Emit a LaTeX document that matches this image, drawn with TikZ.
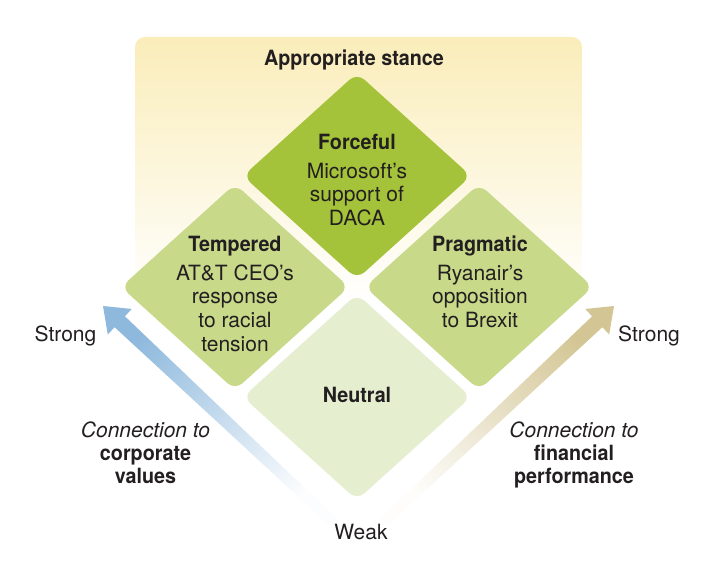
\documentclass[tikz,border=0pt]{standalone}
\usepackage{fontspec}
\setmainfont{TeX Gyre Heros}[BoldFeatures={FakeStretch=0.94}]
\usetikzlibrary{shapes.geometric,calc}
\definecolor{bgyellow}{RGB}{250,237,186}
\definecolor{forcegreen}{RGB}{165,195,58}
\definecolor{midgreen}{RGB}{200,217,138}
\definecolor{palegreen}{RGB}{230,238,208}
\definecolor{arrblue}{RGB}{142,185,221}
\definecolor{arrtan}{RGB}{211,197,148}
\definecolor{ink}{RGB}{35,31,32}
\begin{document}
\begin{tikzpicture}[x=1pt,y=1pt,
  font=\fontsize{21}{23.5}\selectfont, text=ink,
  dia/.style={diamond, minimum width=228pt, minimum height=206pt, inner sep=0pt, outer sep=0pt, rounded corners=10pt},
  txt/.style={anchor=base, inner sep=0pt},
  hd/.style={txt, font=\fontsize{21}{23.5}\selectfont\bfseries},
  it/.style={txt, font=\fontsize{21}{23.5}\selectfont\itshape}]
\useasboundingbox (0,0) rectangle (714,577);
\fill[white] (0,0) rectangle (714,577);
% background panel
\shade[top color=bgyellow, bottom color=white, rounded corners=10pt] (135,272) rectangle (582,540);
% arrows
\coordinate (tipL) at (103,271); \coordinate (tailL) at (333,55);
\coordinate (baseL) at ($(tipL)!23pt!(tailL)$);
\shade[top color=arrblue, middle color=arrblue!55, bottom color=arrblue!3, shading angle=43]
  (tipL) -- ($(baseL)!17.5pt!90:(tipL)$) -- ($(baseL)!7.5pt!90:(tipL)$)
  -- ($(tailL)!5pt!90:(tipL)$) -- ($(tailL)!5pt!-90:(tipL)$)
  -- ($(baseL)!7.5pt!-90:(tipL)$) -- ($(baseL)!17.5pt!-90:(tipL)$) -- cycle;
\coordinate (tipR) at (614,271); \coordinate (tailR) at (384,55);
\coordinate (baseR) at ($(tipR)!23pt!(tailR)$);
\shade[top color=arrtan, middle color=arrtan!55, bottom color=arrtan!3, shading angle=-43]
  (tipR) -- ($(baseR)!17.5pt!90:(tipR)$) -- ($(baseR)!7.5pt!90:(tipR)$)
  -- ($(tailR)!5pt!90:(tipR)$) -- ($(tailR)!5pt!-90:(tipR)$)
  -- ($(baseR)!7.5pt!-90:(tipR)$) -- ($(baseR)!17.5pt!-90:(tipR)$) -- cycle;
% diamonds
\node[dia, fill=forcegreen] (force) at (357,401) {};
\node[dia, fill=midgreen] (temp) at (235,290) {};
\node[dia, fill=midgreen] (prag) at (479,290) {};
\node[dia, fill=palegreen] (neut) at (357,180) {};
% heading
\node[hd] (title) at (354,511) {Appropriate stance};
% Forceful
\node[hd] (f1) at (357,427) {Forceful};
\node[txt] (f2) at (357,398) {Microsoft’s};
\node[txt] (f3) at (357,375) {support of};
\node[txt] (f4) at (357,351) {DACA};
% Tempered
\node[hd] (t1) at (235,325) {Tempered};
\node[txt] (t2) at (235,296) {AT\&T CEO’s};
\node[txt] (t3) at (235,273) {response};
\node[txt] (t4) at (235,249) {to racial};
\node[txt] (t5) at (235,225) {tension};
% Pragmatic
\node[hd] (p1) at (480,325) {Pragmatic};
\node[txt] (p2) at (480,296) {Ryanair’s};
\node[txt] (p3) at (480,273) {opposition};
\node[txt] (p4) at (480,249) {to Brexit};
% Neutral
\node[hd] (n1) at (357,174) {Neutral};
% axis labels
\node[txt] (sl) at (65.5,235) {Strong};
\node[txt] (sr) at (649,235) {Strong};
\node[txt] (wk) at (361,37) {Weak};
\node[it] (cl1) at (145.5,139) {Connection to};
\node[hd] (cl2) at (145.5,116) {corporate};
\node[hd] (cl3) at (145.5,93) {values};
\node[it] (cr1) at (574,139) {Connection to};
\node[hd] (cr2) at (574,116) {financial};
\node[hd] (cr3) at (574,93) {performance};
\end{tikzpicture}
\end{document}
